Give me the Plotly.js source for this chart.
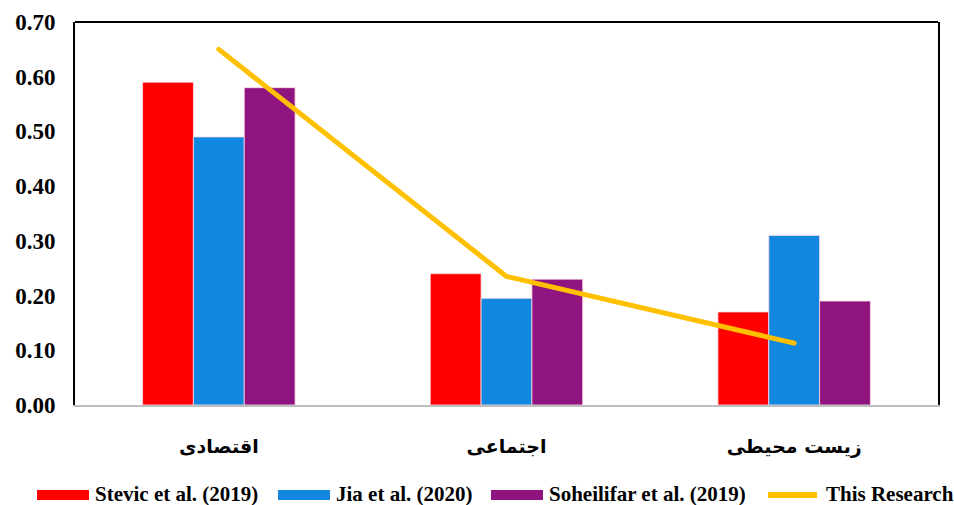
<!DOCTYPE html>
<html>
<head>
<meta charset="utf-8">
<script src="https://cdn.plot.ly/plotly-3.0.1.min.js"></script>
<style>html,body{margin:0;padding:0;background:#fff;}
#chart .scatterlayer path.js-line{stroke-linecap:round;stroke-linejoin:round;}</style>
</head>
<body>
<div id="chart" style="width:954px;height:505px;"></div>
<script>
// ---- data ----
var categories = ["اقتصادی", "اجتماعی", "زیست محیطی"];
var seriesNames = ["Stevic et al. (2019)", "Jia et al. (2020)", "Soheilifar et al. (2019)", "This Research"];
var stevic = [0.59, 0.24, 0.17];
var jia = [0.49, 0.195, 0.31];
var soheilifar = [0.58, 0.23, 0.19];
var thisResearch = [0.65, 0.235, 0.113];
var yTickVals = [0, 0.1, 0.2, 0.3, 0.4, 0.5, 0.6, 0.7];
var yTickText = ["0.00", "0.10", "0.20", "0.30", "0.40", "0.50", "0.60", "0.70"];

// ---- styles ----
var colors = ["#FF0000", "#1287E0", "#90147F", "#FFC000"];
var W = 954, H = 505, ML = 75, MR = 16, MT = 22, MB = 100;
var serif = "Liberation Serif";

var barLine = {color: "rgba(255,220,230,0.8)", width: 1};
var traces = [
  {type: "bar", name: seriesNames[0], x: categories, y: stevic, marker: {color: colors[0], line: barLine}},
  {type: "bar", name: seriesNames[1], x: categories, y: jia, marker: {color: colors[1], line: barLine}},
  {type: "bar", name: seriesNames[2], x: categories, y: soheilifar, marker: {color: colors[2], line: barLine}},
  {type: "scatter", mode: "lines", name: seriesNames[3], x: categories, y: thisResearch,
   line: {color: colors[3], width: 5}}
];

// legend built in paper coordinates
function px(x){ return (x - ML) / (W - ML - MR); }
function py(y){ return (H - MB - y) / (H - MT - MB); }
var swatchX = [[37, 89], [278, 330], [491, 543], [765, 820]];
var textX = [94, 335, 548, 825];
var legY = 495;
var shapes = [
  {type: "line", xref: "paper", yref: "paper", x0: 0, x1: 1, y0: 1, y1: 1, line: {color: "#000", width: 2}}
];
var annotations = [];
for (var i = 0; i < seriesNames.length; i++) {
  if (i < 3) {
    shapes.push({type: "rect", xref: "paper", yref: "paper",
      x0: px(swatchX[i][0]), x1: px(swatchX[i][1]), y0: py(legY + 5), y1: py(legY - 5),
      fillcolor: colors[i], line: {width: 0}});
  } else {
    shapes.push({type: "line", xref: "paper", yref: "paper",
      x0: px(swatchX[i][0] + 3), x1: px(swatchX[i][1] - 3), y0: py(legY), y1: py(legY),
      line: {color: colors[i], width: 6}});
  }
  annotations.push({xref: "paper", yref: "paper", x: px(textX[i]), y: py(legY - 1),
    xanchor: "left", yanchor: "middle", showarrow: false, text: seriesNames[i],
    borderpad: 0,
    font: {family: serif, size: 21, color: "#000", weight: "bold"}});
}

var layout = {
  width: W, height: H,
  margin: {l: ML, r: MR, t: MT, b: MB, pad: 0},
  paper_bgcolor: "#fff", plot_bgcolor: "#fff",
  barmode: "group", bargap: 0.47, bargroupgap: 0,
  showlegend: false,
  xaxis: {
    type: "category", showgrid: false, zeroline: false,
    showline: true, linecolor: "#BFBFBF", linewidth: 2,
    ticks: "", ticklabelstandoff: 23,
    tickfont: {family: "DejaVu Sans", size: 19, color: "#000", weight: "bold"}
  },
  yaxis: {
    range: [0, 0.7], showgrid: false, zeroline: false,
    showline: true, linecolor: "#000", linewidth: 2, mirror: true,
    tickvals: yTickVals, ticktext: yTickText, ticks: "", ticklabelstandoff: 13,
    tickfont: {family: serif, size: 23, color: "#000", weight: "bold"}
  },
  shapes: shapes,
  annotations: annotations
};

Plotly.newPlot("chart", traces, layout, {displayModeBar: false, staticPlot: true});
</script>
</body>
</html>
